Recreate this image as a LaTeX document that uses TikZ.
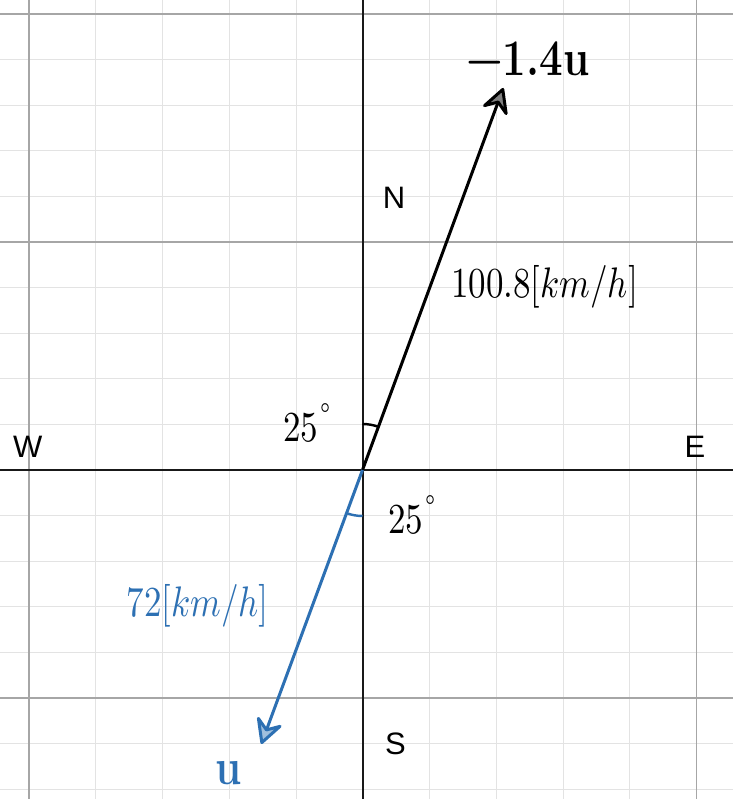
\documentclass[tikz,border=0pt]{standalone}
\usepackage{fontspec}
\usepackage{unicode-math}
\usepackage{graphicx}
\newfontfamily\labelsans{Liberation Sans}
\definecolor{dblue}{HTML}{2D70B3}
\definecolor{minorgrid}{HTML}{E3E3E3}
\definecolor{majorgrid}{HTML}{A6A6A6}
\newcommand{\vstretch}[1]{\scalebox{1}[1.22]{#1}}
\newcommand{\degmark}{\kern2pt\raisebox{22pt}{$\scriptstyle\circ$}}
\begin{document}
\begin{tikzpicture}[x=1pt,y=1pt,
  minor/.style={draw=minorgrid, line width=1pt},
  major/.style={draw=majorgrid, line width=1.6pt},
  axis/.style={draw=black!90, line width=2pt},
  vecline/.style={line width=3pt, shorten >=14pt},
  vechead/.style={line width=3pt, line join=round},
  mathlbl/.style={anchor=base west, inner sep=0pt, font=\fontsize{35}{42}\selectfont},
  boldlbl/.style={anchor=base west, inner sep=0pt, font=\fontsize{42}{50}\selectfont\bfseries},
  dirlbl/.style={anchor=base west, inner sep=0pt, font=\fontsize{31}{37}\selectfont\labelsans},
  anglemark/.style={line width=2.4pt}
]
\useasboundingbox (0,0) rectangle (733,799);
\fill[white] (0,0) rectangle (733,799);
\begin{scope}
\clip (0,0) rectangle (733,799);
\foreach \i in {1,2,3,4,6,7,8,9} \draw[minor] ({29+\i*66.75},0) -- ++(0,799);
\foreach \k in {1,2,3,4,6,7,8,9,11,12,13,14,16,17} \draw[minor] (0,{785-\k*45.6}) -- ++(733,0);
\foreach \i in {0,10} \draw[major] ({29+\i*66.75},0) -- ++(0,799);
\foreach \k in {0,5,15} \draw[major] (0,{785-\k*45.6}) -- ++(733,0);
\end{scope}
\coordinate (O) at (362.5,329);
\coordinate (Ptop) at (503.3,711);
\coordinate (Pbot) at (261.3,55);
\draw[axis] (0,329) -- (733,329);
\draw[axis] (362.5,0) -- (362.5,799);
\draw[vecline, black] (O) -- (Ptop);
\begin{scope}[shift={(Ptop)}, rotate=69.75]
  \draw[vechead, black, fill=gray] (-1.5,0) -- (-23,11.5) -- (-15,0) -- (-23,-11.5) -- cycle;
\end{scope}
\draw[vecline, dblue] (O) -- (Pbot);
\begin{scope}[shift={(Pbot)}, rotate=249.9]
  \draw[vechead, dblue, fill=dblue!45] (-1.5,0) -- (-23,11.5) -- (-15,0) -- (-23,-11.5) -- cycle;
\end{scope}
\draw[anglemark, black] (O) ++(90:46) arc[start angle=90, end angle=69.75, radius=46];
\draw[anglemark, dblue] (O) ++(270:46) arc[start angle=270, end angle=249.9, radius=46];
\node[boldlbl] (lneg) at (466,723) {\vstretch{−1.4u}};
\node[mathlbl] (l1008) at (451,501) {\vstretch{$100.8[km/h]$}};
\node[mathlbl, text=dblue] (l72) at (126,182) {\vstretch{$72[km/h]$}};
\node[mathlbl] (a1) at (283,357) {\vstretch{$25$\degmark}};
\node[mathlbl] (a2) at (388,265) {\vstretch{$25$\degmark}};
\node[boldlbl, text=dblue] (lu) at (215,15) {\vstretch{u}};
\node[dirlbl] (N) at (382.6,590.7) {N};
\node[dirlbl] (S) at (385,44) {S};
\node[dirlbl] (W) at (13,341) {W};
\node[dirlbl] (E) at (684.3,341) {E};
\end{tikzpicture}
\end{document}
